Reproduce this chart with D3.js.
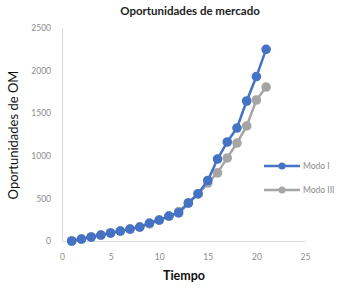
<!DOCTYPE html>
<html><head><meta charset="utf-8">
<script src="https://cdn.jsdelivr.net/npm/d3@7"></script>
<style>body{margin:0;background:#fff}svg{display:block}</style>
</head><body><div id="chart"></div>
<script>
const tiempo = [1,2,3,4,5,6,7,8,9,10,11,12,13,14,15,16,17,18,19,20,21];
const modoI   = [0,23,47,70,94,117,140,164,211,246,293,330,446,555,710,962,1162,1326,1643,1930,2250];
const modoIII = [0,23,47,70,94,117,140,164,200,246,293,345,446,550,680,800,975,1150,1350,1655,1807];
const xTicks = [0,5,10,15,20,25];
const yTicks = [0,500,1000,1500,2000,2500];
const seriesNames = ["Modo I","Modo III"];
const colors = ["#4472C4","#A5A5A5"];

const W=344,H=288;
const svg=d3.select("#chart").append("svg").attr("width",W).attr("height",H);
const font="Lato, 'Open Sans', sans-serif";
const x=d3.scaleLinear().domain([0,25]).range([62,305]);
const y=d3.scaleLinear().domain([0,2500]).range([241,28]);

svg.append("text").attr("x",190).attr("y",15).attr("text-anchor","middle")
  .attr("font-family",font).attr("font-size",11.5).attr("font-weight","bold").attr("fill","#222")
  .text("Oportunidades de mercado");

const gx=svg.append("g").attr("transform","translate(0,241)")
  .call(d3.axisBottom(x).tickValues(xTicks).tickSize(0).tickPadding(13).tickFormat(d3.format("d")));
const gy=svg.append("g").attr("transform","translate(62,0)")
  .call(d3.axisLeft(y).tickValues(yTicks).tickSize(0).tickPadding(11).tickFormat(d3.format("d")));
[gx,gy].forEach(g=>{
  g.select(".domain").attr("stroke","#d9d9d9");
  g.selectAll("text").attr("font-family",font).attr("font-size",8.5).attr("fill","#8c8c8c");
});

svg.append("text").attr("transform","translate(18,135) rotate(-90)").attr("text-anchor","middle")
  .attr("font-family",font).attr("font-size",13).attr("fill","#111")
  .text("Oportunidades de OM");
svg.append("text").attr("x",184).attr("y",280).attr("text-anchor","middle")
  .attr("font-family",font).attr("font-size",12.5).attr("font-weight","bold").attr("fill","#111")
  .text("Tiempo");

const data=[modoI,modoIII];
const line=d3.line().x((d,i)=>x(tiempo[i])).y(d=>y(d));
[1,0].forEach(k=>{
  svg.append("path").datum(data[k]).attr("d",line).attr("fill","none")
    .attr("stroke",colors[k]).attr("stroke-width",2.5);
  svg.append("g").selectAll("circle").data(data[k]).join("circle")
    .attr("cx",(d,i)=>x(tiempo[i])).attr("cy",d=>y(d)).attr("r",4.8).attr("fill",colors[k]);
});

seriesNames.forEach((n,k)=>{
  const ly=166+k*24;
  svg.append("line").attr("x1",264).attr("x2",300).attr("y1",ly).attr("y2",ly)
    .attr("stroke",colors[k]).attr("stroke-width",2.5);
  svg.append("circle").attr("cx",282).attr("cy",ly).attr("r",3.5).attr("fill",colors[k]);
  svg.append("text").attr("x",303).attr("y",ly+3).attr("font-family",font).attr("font-size",8.5)
    .attr("fill","#8c8c8c").text(n);
});
</script></body></html>
